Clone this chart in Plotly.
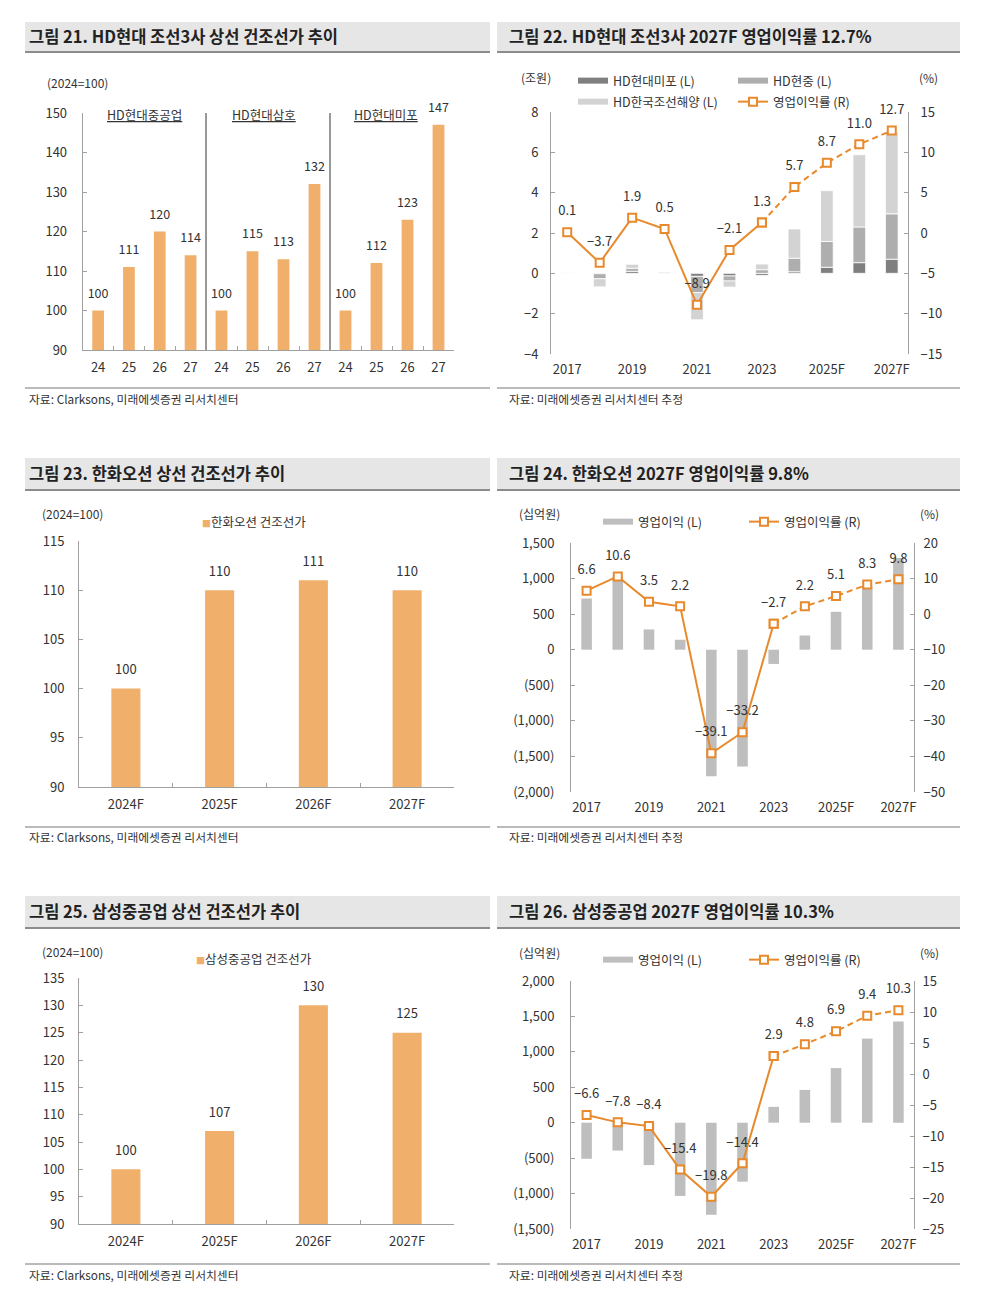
import plotly.graph_objects as go

W, H = 994, 1309
OFF = 8  # page body margin: page pixel -> figure pixel
FONT = "Noto Sans CJK KR"
TXT = "#333333"
AXC = "#a0a0a0"
ORANGE_BAR = "#F0B06B"
ORANGE_LINE = "#E8892C"
GRAY_BAR = "#BEBEBE"
MIPO_C, HHI_C, KSOE_C = "#7F7F7F", "#AEAEAE", "#D3D3D3"

# ---------------- data ----------------
# Fig 21
p21_groups = ["HD현대중공업", "HD현대삼호", "HD현대미포"]
p21_years = ["24", "25", "26", "27"]
p21_hhi = [100, 111, 120, 114]
p21_samho = [100, 115, 113, 132]
p21_mipo = [100, 112, 123, 147]

# shared year axis for profit charts
years = ["2017", "2018", "2019", "2020", "2021", "2022", "2023", "2024", "2025F", "2026F", "2027F"]
last_actual = "2023"

# Fig 22 (조원, %)
p22_mipo = [0.01, -0.02, 0.10, 0.00, -0.15, -0.13, -0.10, 0.08, 0.30, 0.53, 0.70]
p22_hhi = [0.01, -0.25, 0.15, 0.02, -0.80, -0.25, 0.18, 0.67, 1.28, 1.77, 2.25]
p22_ksoe = [0.02, -0.40, 0.20, 0.05, -1.35, -0.30, 0.28, 1.45, 2.52, 3.58, 4.05]
p22_margin = [0.1, -3.7, 1.9, 0.5, -8.9, -2.1, 1.3, 5.7, 8.7, 11.0, 12.7]

# Fig 23
p23_years = ["2024F", "2025F", "2026F", "2027F"]
p23_price = [100, 110, 111, 110]

# Fig 24 (십억원, %)
p24_op = [719, 1025, 285, 140, -1780, -1640, -200, 200, 533, 895, 1290]
p24_margin = [6.6, 10.6, 3.5, 2.2, -39.1, -33.2, -2.7, 2.2, 5.1, 8.3, 9.8]
p24_lticks = [-2000, -1500, -1000, -500, 0, 500, 1000, 1500]
p24_lticklabels = ["(2,000)", "(1,500)", "(1,000)", "(500)", "0", "500", "1,000", "1,500"]

# Fig 25
p25_years = ["2024F", "2025F", "2026F", "2027F"]
p25_price = [100, 107, 130, 125]

# Fig 26 (십억원, %)
p26_op = [-509, -393, -598, -1033, -1299, -832, 224, 463, 771, 1187, 1430]
p26_margin = [-6.6, -7.8, -8.4, -15.4, -19.8, -14.4, 2.9, 4.8, 6.9, 9.4, 10.3]
p26_lticks = [-1500, -1000, -500, 0, 500, 1000, 1500, 2000]
p26_lticklabels = ["(1,500)", "(1,000)", "(500)", "0", "500", "1,000", "1,500", "2,000"]

titles = ["그림 21. HD현대 조선3사 상선 건조선가 추이",
          "그림 22. HD현대 조선3사 2027F 영업이익률 12.7%",
          "그림 23. 한화오션 상선 건조선가 추이",
          "그림 24. 한화오션 2027F 영업이익률 9.8%",
          "그림 25. 삼성중공업 상선 건조선가 추이",
          "그림 26. 삼성중공업 2027F 영업이익률 10.3%"]
sources = ["자료: Clarksons, 미래에셋증권 리서치센터",
           "자료: 미래에셋증권 리서치센터 추정"]


# ---------------- helpers ----------------
def fx(px):
    return (px - OFF) / W


def fy(py):
    return 1 - (py - OFF) / H


def fmt1(v):
    return f"{v:.1f}".replace("-", "−")


def fmt0(v):
    return f"{v:.0f}"


def cat_range(cats):
    return [-0.5, len(cats) - 0.5]


def zero_pos(dom, rng):
    return dom[0] + (0 - rng[0]) / (rng[1] - rng[0]) * (dom[1] - dom[0])


def note(text, x, y, size=12, xanchor="left", xref="paper"):
    return dict(text=text, xref=xref, yref="paper", x=x, y=y, xanchor=xanchor,
                yanchor="middle", showarrow=False, font=dict(size=size, color=TXT))


AX = dict(showgrid=False, zeroline=False, showline=True, linecolor=AXC, linewidth=1,
          ticks="inside", ticklen=4, tickcolor=AXC, tickfont=dict(size=13, color=TXT))

fig = go.Figure()
layout = dict(width=W, height=H, margin=dict(l=0, r=0, t=0, b=0, autoexpand=False),
              paper_bgcolor="white", plot_bgcolor="white",
              font=dict(family=FONT, size=13, color=TXT), barmode="relative",
              showlegend=True)
shapes, annots = [], []


def label_trace(x, y, text, xa, ya, msize, fsize=12.5):
    return go.Scatter(x=x, y=y, text=text, mode="markers+text", textposition="top center",
                      marker=dict(size=msize, color="rgba(0,0,0,0)"),
                      textfont=dict(size=fsize, color=TXT), xaxis=xa, yaxis=ya,
                      showlegend=False, hoverinfo="skip", cliponaxis=False)


# ---------------- Fig 21 ----------------
P21_X = [(82.7, 206), (206, 330), (330, 454)]
P21_Y = (113, 350)
p21_series = [p21_hhi, p21_samho, p21_mipo]
for i, (a, b) in enumerate(P21_X):
    xname = "xaxis" if i == 0 else f"xaxis{i + 1}"
    xref = "x" if i == 0 else f"x{i + 1}"
    layout[xname] = dict(AX, domain=[fx(a), fx(b)], anchor="y", type="category",
                         categoryarray=p21_years, range=cat_range(p21_years),
                         tickson="boundaries", ticklabelstandoff=5)
    vals = p21_series[i]
    fig.add_trace(go.Bar(x=p21_years, y=vals, xaxis=xref, yaxis="y", width=0.38,
                         marker=dict(color=ORANGE_BAR, line=dict(width=0)),
                         showlegend=False, hoverinfo="skip"))
    fig.add_trace(label_trace(p21_years, vals, [fmt0(v) for v in vals], xref, "y", 14))
    annots.append(note(f"<u>{p21_groups[i]}</u>", [0.5, 0.47, 0.45][i], fy(115), 12.5,
                       "center", f"{xref} domain"))
    if i > 0:
        shapes.append(dict(type="line", xref=f"{xref} domain", yref="y domain",
                           x0=0, x1=0, y0=0, y1=1, line=dict(color="#333333", width=1)))
layout["yaxis"] = dict(AX, domain=[fy(P21_Y[1]), fy(P21_Y[0])], anchor="x", range=[90, 150],
                       dtick=10, ticklabelstandoff=12)
annots.append(note("(2024=100)", fx(45), fy(82)))


# ---------------- dual-axis profit panels ----------------
def profit_panel(xi, yl, yr, xdom, ydom, lrange, rrange, ldtick, rdtick,
                 lticks=None, lticklabels=None, lstand=10, rstand=8):
    xa = f"x{xi}"
    ya, yb = f"y{yl}", f"y{yr}"
    dom_y = [fy(ydom[1]), fy(ydom[0])]
    layout[f"xaxis{xi}"] = dict(AX, domain=[fx(xdom[0]), fx(xdom[1])], anchor=ya,
                                type="category", categoryarray=years, range=cat_range(years),
                                showline=False, ticks="", tickvals=years[::2],
                                ticktext=years[::2], ticklabelstandoff=6)
    layout[f"xaxis{xi + 1}"] = dict(AX, overlaying=xa, anchor="free",
                                    position=zero_pos(dom_y, lrange), type="linear",
                                    range=cat_range(years),
                                    tickvals=[i + 0.5 for i in range(len(years) - 1)],
                                    showticklabels=False)
    ly = dict(AX, domain=dom_y, anchor=xa, range=lrange, ticklabelstandoff=lstand)
    if lticks is not None:
        ly.update(tickvals=lticks, ticktext=lticklabels)
    else:
        ly.update(dtick=ldtick)
    layout[f"yaxis{yl}"] = ly
    layout[f"yaxis{yr}"] = dict(AX, overlaying=ya, side="right", anchor=xa, range=rrange,
                                dtick=rdtick, ticklabelstandoff=rstand)
    return xa, ya, yb


def margin_traces(margin, xa, yb, legend):
    k = years.index(last_actual)
    mk = dict(symbol="square", size=8, color="white", line=dict(color=ORANGE_LINE, width=2))
    fig.add_trace(go.Scatter(x=years[:k + 1], y=margin[:k + 1], mode="lines+markers",
                             line=dict(color=ORANGE_LINE, width=2), marker=mk,
                             name="영업이익률 (R)", legend=legend, xaxis=xa, yaxis=yb,
                             cliponaxis=False, hoverinfo="skip"))
    fig.add_trace(go.Scatter(x=years[k:], y=margin[k:], mode="lines+markers",
                             line=dict(color=ORANGE_LINE, width=2, dash="6px,4px"), marker=mk,
                             showlegend=False, xaxis=xa, yaxis=yb, cliponaxis=False,
                             hoverinfo="skip"))
    fig.add_trace(label_trace(years, margin, [fmt1(v) for v in margin], xa, yb, 20, 13))


def legend_swatch(name, color, legend, xa, ya):
    fig.add_trace(go.Scatter(x=[None], y=[None], mode="lines", line=dict(color=color, width=6),
                             name=name, legend=legend, xaxis=xa, yaxis=ya, hoverinfo="skip"))


# Fig 22
xa, ya, yb = profit_panel(4, 2, 3, (551, 908), (112, 354), [-4, 8], [-15, 15], 2, 5,
                          lstand=9, rstand=9)
for vals, col, nm in [(p22_mipo, MIPO_C, "HD현대미포 (L)"), (p22_hhi, HHI_C, "HD현중 (L)"),
                      (p22_ksoe, KSOE_C, "HD한국조선해양 (L)")]:
    fig.add_trace(go.Bar(x=years, y=vals, xaxis=xa, yaxis=ya, width=0.39, name=nm,
                         marker=dict(color=col, line=dict(color="white", width=0.8)),
                         showlegend=False, hoverinfo="skip"))
legend_swatch("HD현대미포 (L)", MIPO_C, "legend", xa, ya)
legend_swatch("HD현중 (L)", HHI_C, "legend", xa, ya)
legend_swatch("HD한국조선해양 (L)", KSOE_C, "legend2", xa, ya)
margin_traces(p22_margin, xa, yb, "legend2")
annots.append(note("(조원)", fx(519), fy(77)))
annots.append(note("(%)", fx(917), fy(77)))

# Fig 24
xa, ya, yb = profit_panel(7, 5, 6, (571, 914), (543, 792), [-2000, 1500], [-50, 20], None, 10,
                          lticks=p24_lticks, lticklabels=p24_lticklabels, lstand=13, rstand=6)
fig.add_trace(go.Bar(x=years, y=p24_op, xaxis=xa, yaxis=ya, width=0.34,
                     marker=dict(color=GRAY_BAR, line=dict(width=0)),
                     showlegend=False, hoverinfo="skip"))
legend_swatch("영업이익 (L)", GRAY_BAR, "legend3", xa, ya)
margin_traces(p24_margin, xa, yb, "legend3")
annots.append(note("(십억원)", fx(517), fy(514)))
annots.append(note("(%)", fx(918), fy(514)))

# Fig 26
xa, ya, yb = profit_panel(10, 8, 9, (571, 914), (981, 1229), [-1500, 2000], [-25, 15], None, 5,
                          lticks=p26_lticks, lticklabels=p26_lticklabels, lstand=13, rstand=5)
fig.add_trace(go.Bar(x=years, y=p26_op, xaxis=xa, yaxis=ya, width=0.34,
                     marker=dict(color=GRAY_BAR, line=dict(width=0)),
                     showlegend=False, hoverinfo="skip"))
legend_swatch("영업이익 (L)", GRAY_BAR, "legend4", xa, ya)
margin_traces(p26_margin, xa, yb, "legend4")
annots.append(note("(십억원)", fx(517), fy(952)))
annots.append(note("(%)", fx(918), fy(952)))


# ---------------- single bar panels (23, 25) ----------------
def price_panel(xi, yi, ydom, cats, vals, rng, legend_text, leg_pos, unit_y):
    xa, ya = f"x{xi}", f"y{yi}"
    layout[f"xaxis{xi}"] = dict(AX, domain=[fx(79), fx(454)], anchor=ya, type="category",
                                categoryarray=cats, range=cat_range(cats),
                                tickson="boundaries", ticklabelstandoff=5)
    layout[f"yaxis{yi}"] = dict(AX, domain=[fy(ydom[1]), fy(ydom[0])], anchor=xa, range=rng,
                                dtick=5, ticklabelstandoff=11)
    fig.add_trace(go.Bar(x=cats, y=vals, xaxis=xa, yaxis=ya, width=0.31,
                         marker=dict(color=ORANGE_BAR, line=dict(width=0)),
                         showlegend=False, hoverinfo="skip"))
    fig.add_trace(label_trace(cats, vals, [fmt0(v) for v in vals], xa, ya, 16, 13))
    annots.append(note("(2024=100)", fx(40), fy(unit_y)))
    annots.append(note(f"<span style='color:{ORANGE_BAR};font-size:9px'>■</span>{legend_text}",
                       fx(leg_pos[0]), fy(leg_pos[1]), 12.5))


price_panel(6, 4, (541, 787), p23_years, p23_price, [90, 115], "한화오션 건조선가",
            (200, 521), 514)
price_panel(9, 7, (978, 1224), p25_years, p25_price, [90, 135], "삼성중공업 건조선가",
            (194, 958), 951)

# ---------------- frames: title bands & sources ----------------
cols = [(25, 490, 27), (497, 960, 507)]
rows = [(22, 51, 36, 388, 398), (458, 489, 473, 827, 836), (896, 927, 911, 1264, 1274)]
for r, (t0, t1, tc, fl, fs) in enumerate(rows):
    for c, (x0, x1, tx) in enumerate(cols):
        shapes.append(dict(type="rect", xref="paper", yref="paper", x0=fx(x0), x1=fx(x1),
                           y0=fy(t1), y1=fy(t0), fillcolor="#E6E6E6", line=dict(width=0),
                           layer="below"))
        shapes.append(dict(type="line", xref="paper", yref="paper", x0=fx(x0), x1=fx(x1),
                           y0=fy(t1 + 1), y1=fy(t1 + 1), line=dict(color="#8C8C8C", width=2)))
        shapes.append(dict(type="line", xref="paper", yref="paper", x0=fx(x0), x1=fx(x1),
                           y0=fy(fl), y1=fy(fl), line=dict(color="#777777", width=1)))
        t = note(f"<b>{titles[r * 2 + c]}</b>", fx(tx), fy(tc), 16.5)
        t["font"]["color"] = "#222222"
        annots.append(t)
        annots.append(note(sources[c], fx(tx), fy(fs), 11.8))

# ---------------- legends ----------------
LEG = dict(orientation="h", xanchor="left", yanchor="middle", bgcolor="rgba(0,0,0,0)",
           font=dict(size=12.5, color=TXT), itemwidth=30, entrywidthmode="pixels",
           tracegroupgap=0, borderwidth=0)
layout["legend"] = dict(LEG, x=fx(573), y=fy(81), entrywidth=115)
layout["legend2"] = dict(LEG, x=fx(573), y=fy(102), entrywidth=115)
layout["legend3"] = dict(LEG, x=fx(598), y=fy(522), entrywidth=101)
layout["legend4"] = dict(LEG, x=fx(598), y=fy(960), entrywidth=101)

layout["shapes"] = shapes
layout["annotations"] = annots
fig.update_layout(**layout)
fig.write_html("out.html")
